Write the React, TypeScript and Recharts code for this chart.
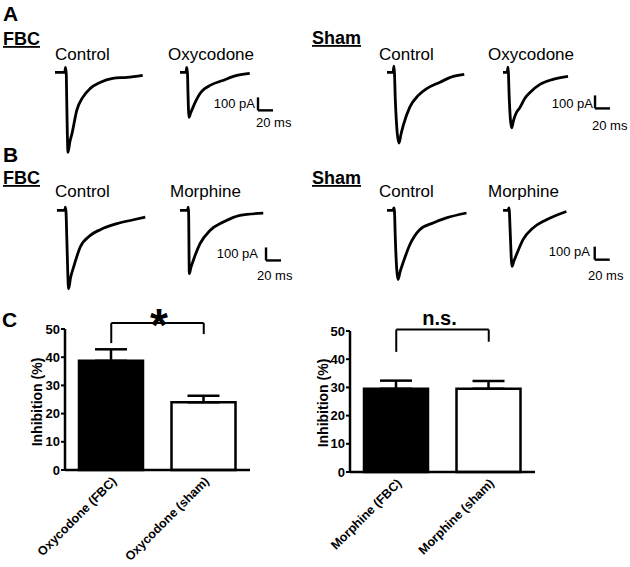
import { LineChart, Line, XAxis, YAxis, ReferenceLine, BarChart, Bar, Cell, ErrorBar } from 'recharts'

const FONT = '"Liberation Sans", Arial, sans-serif'

// sweep traces: [time (ms), current (pA)]
const fbcControlA = [[0, 0], [13, 0], [14, 38], [15, -10], [15.6, -200], [17.3, -615], [20, -530], [22.7, -469], [29, -292], [37, -192], [47, -123], [60, -77], [77, -46], [96, -38], [117, -23]]
const fbcOxycodone = [[0, 0], [8, 0], [9, 38], [10, -10], [10.6, -150], [12, -346], [14, -315], [17.3, -269], [22, -210], [26.7, -162], [33, -125], [40, -100], [57, -62], [76, -23], [93, -8]]
const shamControlA = [[0, 0], [8, 0], [9.3, 48], [10, -10], [11, -200], [16, -544], [18.5, -480], [21.7, -408], [30.4, -267], [41.7, -177], [52.9, -125], [70.7, -75], [88.4, -31], [103, -15]]
const shamOxycodone = [[0, 0], [5.5, 0], [6.7, 40], [7.3, -10], [8, -150], [11.6, -426], [14, -370], [17, -320], [22.7, -269], [29, -200], [36, -154], [49.3, -92], [66.7, -54], [86.7, -31]]
const fbcControlB = [[0, 0], [10.5, 0], [11, 25], [12, -10], [13, -200], [15.5, -602], [18, -520], [22.1, -436], [31, -282], [44.4, -192], [57.7, -148], [80, -102], [102, -72], [117.7, -52]]
const fbcMorphine = [[0, 0], [10, 0], [11, 25], [11.5, -20], [12.4, -487], [14.5, -440], [17.7, -385], [26.7, -256], [40, -154], [57.7, -90], [80, -38], [111, -21]]
const shamControlB = [[0, 0], [8, 0], [9.3, 20], [10, -10], [11, -200], [14.7, -532], [17.5, -470], [21.3, -405], [30.4, -264], [43.6, -148], [61.4, -97], [79.2, -58], [106, -20]]
const shamMorphine = [[0, 0], [6.5, 0], [8, 20], [8.5, -10], [9.5, -150], [12, -431], [14.5, -390], [17.9, -341], [26.7, -225], [40, -135], [57.9, -72], [84.5, -8]]

// panel C
const oxyGroups = ['Oxycodone (FBC)', 'Oxycodone (sham)']
const oxyMeans = [38.7, 24.0]
const oxySem = [4.1, 2.3]
const morGroups = ['Morphine (FBC)', 'Morphine (sham)']
const morMeans = [29.5, 29.5]
const morSem = [2.9, 2.8]
const yTicks = [0, 10, 20, 30, 40, 50]

const MS_MAX = 160
const PA_MIN = -690
const PA_MAX = 80
const PX_MS = 0.75
const PX_PA = 0.13

function Trace({ pts, x0, y0, bar }: { pts: number[][]; x0: number; y0: number; bar?: number[] }) {
  const data = pts.map(([t, i]) => ({ t, i }))
  return (
    <div style={{ position: 'absolute', left: x0, top: y0 - PA_MAX * PX_PA }}>
      <LineChart width={MS_MAX * PX_MS} height={(PA_MAX - PA_MIN) * PX_PA} data={data} margin={{ top: 0, right: 0, bottom: 0, left: 0 }}>
        <XAxis type="number" dataKey="t" domain={[0, MS_MAX]} hide />
        <YAxis type="number" domain={[PA_MIN, PA_MAX]} hide />
        <Line dataKey="i" type="monotone" stroke="#000" strokeWidth={2.8} strokeLinejoin="round" dot={false} isAnimationActive={false} />
        {bar && (
          <ReferenceLine segment={[{ x: bar[0], y: bar[1] }, { x: bar[0], y: bar[1] + 100 }]} stroke="#000" strokeWidth={2.4} />
        )}
        {bar && (
          <ReferenceLine segment={[{ x: bar[0], y: bar[1] }, { x: bar[0] + 20, y: bar[1] }]} stroke="#000" strokeWidth={2.4} />
        )}
      </LineChart>
    </div>
  )
}

const RotTick = (props: any) => {
  const { x, y, payload } = props
  const tx = x + 6
  const ty = y + 12
  return (
    <text x={tx} y={ty} transform={`rotate(-45 ${tx} ${ty})`} textAnchor="end" fontSize={12.5} fontWeight="bold" fontFamily={FONT} fill="#000">
      {payload.value}
    </text>
  )
}

function Inhibition({ groups, means, sems, left, top, mLeft, mRight, mTop, bracket }: any) {
  const data = groups.map((name: string, k: number) => ({ name, v: means[k], err: [0, sems[k]] }))
  return (
    <div style={{ position: 'absolute', left, top }}>
      <BarChart width={260} height={267} data={data} margin={{ top: mTop, right: mRight, left: mLeft, bottom: 267 - mTop - 141 - 90 }}>
        <XAxis dataKey="name" axisLine={{ stroke: '#000', strokeWidth: 2.5 }} tickLine={false} tickSize={0} tickMargin={0} height={90} interval={0} tick={<RotTick />} />
        <YAxis domain={[0, 50]} ticks={yTicks} width={30} axisLine={{ stroke: '#000', strokeWidth: 2.5 }} tickLine={{ stroke: '#000', strokeWidth: 2 }} tickSize={4} tickMargin={1} tick={{ fill: '#000', fontSize: 13, fontWeight: 'bold', fontFamily: FONT }} />
        <Bar dataKey="v" barSize={64} isAnimationActive={false}>
          {data.map((d: any, k: number) => (
            <Cell key={d.name} fill={k === 0 ? '#000' : '#fff'} stroke="#000" strokeWidth={2.5} />
          ))}
          <ErrorBar dataKey="err" width={16} stroke="#000" strokeWidth={2.5} direction="y" />
        </Bar>
        <ReferenceLine segment={[{ x: groups[0], y: bracket[0] }, { x: groups[1], y: bracket[0] }]} stroke="#000" strokeWidth={2} ifOverflow="visible" />
        <ReferenceLine segment={[{ x: groups[0], y: bracket[0] }, { x: groups[0], y: bracket[1] }]} stroke="#000" strokeWidth={2} ifOverflow="visible" />
        <ReferenceLine segment={[{ x: groups[1], y: bracket[0] }, { x: groups[1], y: bracket[2] }]} stroke="#000" strokeWidth={2} ifOverflow="visible" />
      </BarChart>
    </div>
  )
}

const t = (x: number, y: number, s: string, extra: any = {}) => (
  <text key={s + x + y} x={x} y={y} fontFamily={FONT} fill="#000" {...extra}>
    {s}
  </text>
)

export default function App() {
  const head = { fontSize: 18, fontWeight: 'bold', textDecoration: 'underline' }
  const sub = { fontSize: 17 }
  const letter = { fontSize: 21, fontWeight: 'bold' }
  const scale = { fontSize: 13 }
  const yLab = { fontSize: 14, fontWeight: 'bold', textAnchor: 'middle' }
  return (
    <div style={{ position: 'absolute', left: 0, top: 0, width: 630, height: 567, background: '#fff', overflow: 'hidden' }}>
      <Trace pts={fbcControlA} x0={55} y0={72} />
      <Trace pts={fbcOxycodone} x0={180} y0={72} bar={[104, -292]} />
      <Trace pts={shamControlA} x0={387} y0={72} />
      <Trace pts={shamOxycodone} x0={503} y0={72} bar={[122.7, -277]} />
      <Trace pts={fbcControlB} x0={56.7} y0={210} />
      <Trace pts={fbcMorphine} x0={180} y0={210} bar={[114.7, -385]} />
      <Trace pts={shamControlB} x0={387.3} y0={210.7} />
      <Trace pts={shamMorphine} x0={503.3} y0={210.7} bar={[122.3, -379]} />

      <Inhibition groups={oxyGroups} means={oxyMeans} sems={oxySem} left={0} top={300} mLeft={35} mRight={10} mTop={29} bracket={[52.1, 45.0, 48.2]} />
      <Inhibition groups={morGroups} means={morMeans} sems={morSem} left={300} top={300} mLeft={20} mRight={25} mTop={31} bracket={[50.5, 42.6, 46.2]} />

      <svg width={630} height={567} style={{ position: 'absolute', left: 0, top: 0, pointerEvents: 'none' }}>
        {t(3, 21, 'A', letter)}
        {t(3, 162, 'B', letter)}
        {t(2, 327, 'C', letter)}
        {t(3, 45, 'FBC', head)}
        {t(312, 44, 'Sham', head)}
        {t(3, 184, 'FBC', head)}
        {t(312, 184, 'Sham', head)}
        {t(55, 60, 'Control', sub)}
        {t(168, 60, 'Oxycodone', sub)}
        {t(379, 60, 'Control', sub)}
        {t(488, 60, 'Oxycodone', sub)}
        {t(55, 197, 'Control', sub)}
        {t(170, 197, 'Morphine', sub)}
        {t(379, 197, 'Control', sub)}
        {t(488, 197, 'Morphine', sub)}
        {t(255, 108, '100 pA', { ...scale, textAnchor: 'end' })}
        {t(256, 127, '20 ms', scale)}
        {t(593, 108, '100 pA', { ...scale, textAnchor: 'end' })}
        {t(592, 130, '20 ms', scale)}
        {t(258, 258, '100 pA', { ...scale, textAnchor: 'end' })}
        {t(257, 280, '20 ms', scale)}
        {t(590, 256, '100 pA', { ...scale, textAnchor: 'end' })}
        {t(588, 280, '20 ms', scale)}
        {t(42, 402, 'Inhibition (%)', { ...yLab, transform: 'rotate(-90 42 402)' })}
        {t(327.5, 403, 'Inhibition (%)', { ...yLab, transform: 'rotate(-90 327.5 403)' })}
        {t(159, 341, '*', { fontSize: 46, fontWeight: 'bold', textAnchor: 'middle' })}
        {t(439.5, 325, 'n.s.', { fontSize: 20, fontWeight: 'bold', textAnchor: 'middle' })}
      </svg>
    </div>
  )
}
